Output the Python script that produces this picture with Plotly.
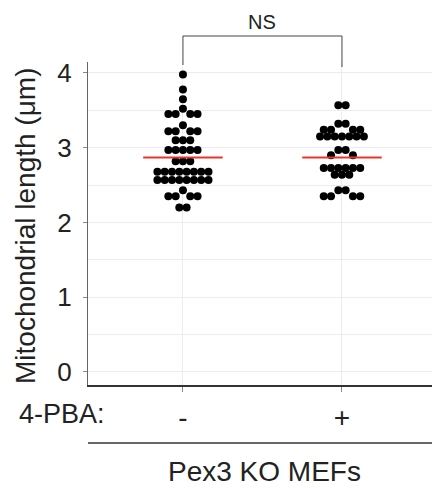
import numpy as np
import plotly.graph_objects as go

# ---------------- data ----------------
groups = ["-", "+"]
minus_values = [3.98, 3.78, 3.65,
                3.52, 3.45, 3.45, 3.45, 3.45,
                3.30, 3.22, 3.22, 3.22, 3.22,
                3.10, 3.10, 3.10,
                2.97, 2.97, 2.97, 2.97, 2.97,
                2.82, 2.82, 2.82,
                2.68, 2.68, 2.68, 2.68, 2.68, 2.68, 2.68, 2.68,
                2.57, 2.57, 2.57, 2.57, 2.57, 2.57, 2.57, 2.57,
                2.43, 2.35, 2.35, 2.35, 2.35,
                2.20, 2.20]
plus_values = [3.57, 3.57,
               3.32, 3.32, 3.24, 3.24, 3.24, 3.24,
               3.15, 3.15, 3.15, 3.15, 3.15, 3.15, 3.15,
               2.97, 2.97, 2.90, 2.90,
               2.73, 2.73, 2.73, 2.73, 2.73, 2.73,
               2.64, 2.64, 2.64,
               2.43, 2.43, 2.35, 2.35, 2.35, 2.35]
means = [2.87, 2.87]
y_ticks = [0, 1, 2, 3, 4]
y_title = "Mitochondrial length (μm)"
x_label = "4-PBA:"
group_label = "Pex3 KO MEFs"
sig_label = "NS"

# ---------------- layout geometry ----------------
W, H = 432, 488
ML, MR, MT, MB = 88, 0, 62, 103
PW, PH = W - ML - MR, H - MT - MB
Y_RANGE = [-0.174, 4.147]
X_RANGE = [-0.597, 1.566]
XPX = PW / (X_RANGE[1] - X_RANGE[0])   # px per category unit
S = 7.3                                 # horizontal dot spacing in px
BIN = 0.085                             # vertical bin height in data units


def binned_swarm(values):
    """Scatter-dot layout: points grouped into horizontal bins, each bin centred."""
    vals = np.asarray(values, dtype=float)
    order = np.argsort(-vals, kind="stable")
    bins, cur, top = [], [], None
    for i in order:
        if top is None or top - vals[i] >= BIN:
            if cur:
                bins.append(cur)
            cur, top = [i], vals[i]
        else:
            cur.append(i)
    if cur:
        bins.append(cur)
    xs = np.zeros(len(vals))
    for b in bins:
        n = len(b)
        if n % 2:
            slots = [0.0]
            k = 1
            while len(slots) < n:
                slots += [-k, k]
                k += 1
        else:
            slots = []
            k = 0.5
            while len(slots) < n:
                slots += [-k, k]
                k += 1
        for idx, s in zip(b, slots[:n]):
            xs[idx] = s * S
    return xs / XPX


fig = go.Figure()
TXT = "#222222"
FONT = "Liberation Sans, Arial, sans-serif"

for gi, vals in enumerate([minus_values, plus_values]):
    offs = binned_swarm(vals)
    fig.add_trace(go.Scatter(
        x=gi + offs, y=vals, mode="markers",
        marker=dict(size=8, color="black", line=dict(width=0)),
        showlegend=False, hoverinfo="y", cliponaxis=False))

for gi, m in enumerate(means):
    fig.add_trace(go.Scatter(
        x=[gi - 0.25, gi + 0.25], y=[m, m], mode="lines",
        line=dict(color="#e8362c", width=2), showlegend=False, hoverinfo="y"))

BOT = H - MB  # px of the plot bottom


def py(p):
    return (BOT - p) / PH


def px(p):
    return (p - ML) / PW


# significance bracket
bk = dict(color="#444444", width=1)
fig.add_shape(type="line", xref="x", yref="paper", x0=0, x1=0, y0=py(65), y1=py(36), line=bk)
fig.add_shape(type="line", xref="x", yref="paper", x0=1, x1=1, y0=py(67), y1=py(36), line=bk)
fig.add_shape(type="line", xref="x", yref="paper", x0=0, x1=1, y0=py(36), y1=py(36), line=bk)
fig.add_annotation(x=0.5, xref="x", y=py(22), yref="paper", text=sig_label,
                   xanchor="center", yanchor="middle", showarrow=False,
                   font=dict(size=20, color=TXT, family=FONT))

# group underline and labels
fig.add_shape(type="line", xref="paper", yref="paper", x0=0, x1=1,
              y0=py(443), y1=py(443), line=dict(color="#333333", width=1.5))
fig.add_annotation(x=px(264), xref="paper", y=py(471), yref="paper",
                   text=group_label, xanchor="center", yanchor="middle", showarrow=False,
                   font=dict(size=28, color=TXT, family=FONT))
fig.add_annotation(x=px(62), xref="paper", y=py(414), yref="paper",
                   text=x_label, xanchor="center", yanchor="middle", showarrow=False,
                   font=dict(size=27, color=TXT, family=FONT))
fig.add_annotation(x=px(25), xref="paper", y=py(226), yref="paper",
                   text=y_title, textangle=-90, xanchor="center", yanchor="middle",
                   showarrow=False, font=dict(size=28, color=TXT, family=FONT))

fig.update_layout(
    width=W, height=H,
    margin=dict(l=ML, r=MR, t=MT, b=MB, pad=0),
    plot_bgcolor="white", paper_bgcolor="white",
    font=dict(family=FONT, color=TXT),
    xaxis=dict(range=X_RANGE, tickvals=[0, 1], ticktext=groups,
               showgrid=True, gridcolor="#ececec", gridwidth=1,
               showline=True, linecolor="#333333", linewidth=1.5,
               ticks="outside", ticklen=5, tickcolor="#888888",
               tickfont=dict(size=28, color=TXT, family=FONT),
               ticklabelstandoff=2, zeroline=False, fixedrange=True),
    yaxis=dict(range=Y_RANGE, tickvals=y_ticks,
               showgrid=True, gridcolor="#ececec", gridwidth=1,
               minor=dict(dtick=0.5, tick0=0, showgrid=True, gridcolor="#ececec", ticks=""),
               showline=True, linecolor="#666666", linewidth=1,
               ticks="outside", ticklen=4, tickcolor="#888888",
               tickfont=dict(size=26, color=TXT, family=FONT),
               ticklabelstandoff=6, zeroline=False, fixedrange=True),
)

fig.write_html("out.html")
